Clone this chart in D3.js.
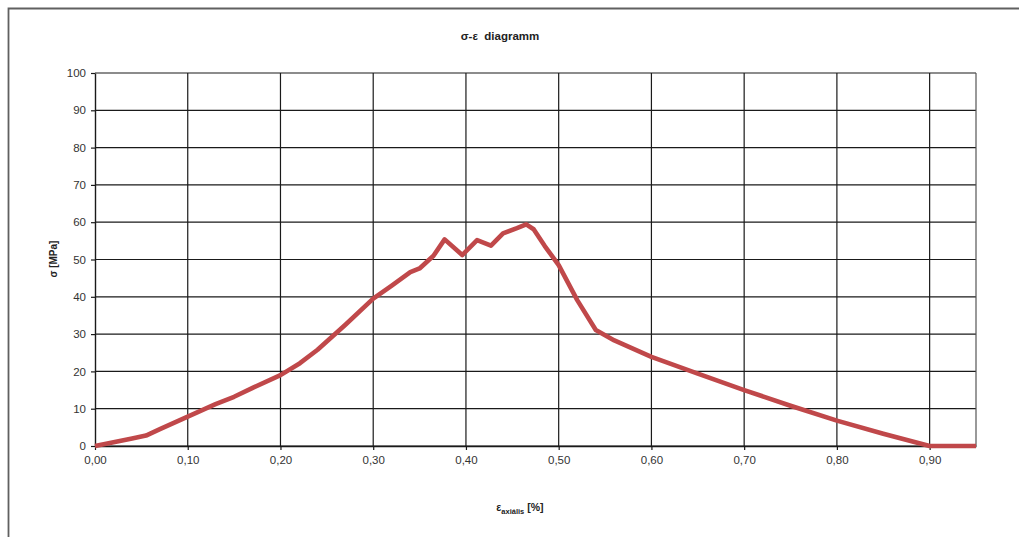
<!DOCTYPE html>
<html>
<head>
<meta charset="utf-8">
<script src="https://cdn.jsdelivr.net/npm/d3@7"></script>
<style>
  html, body { margin: 0; padding: 0; background: #fff; }
  svg { display: block; }
</style>
</head>
<body>
<svg id="chart" width="1019" height="537"></svg>
<script>
// Strain (axial, %) and stress (MPa) readings of the test
const strain = [0.000, 0.020, 0.040, 0.055, 0.070, 0.100, 0.130, 0.150, 0.170, 0.200,
                0.221, 0.240, 0.270, 0.300, 0.320, 0.340, 0.350, 0.365, 0.377, 0.396,
                0.412, 0.427, 0.440, 0.455, 0.465, 0.473, 0.485, 0.500, 0.520, 0.540,
                0.560, 0.600, 0.650, 0.700, 0.750, 0.800, 0.850, 0.900, 0.950];
const stress = [0.0, 1.0, 2.0, 2.8, 4.5, 7.9, 11.2, 13.2, 15.6, 19.0,
                22.2, 25.8, 32.5, 39.5, 43.0, 46.6, 47.6, 51.0, 55.4, 51.2,
                55.2, 53.7, 57.0, 58.4, 59.4, 58.1, 53.6, 48.5, 39.1, 31.1,
                28.3, 23.9, 19.4, 15.0, 10.8, 6.8, 3.3, 0.0, 0.0];

const xTicks = [0, 0.1, 0.2, 0.3, 0.4, 0.5, 0.6, 0.7, 0.8, 0.9];
const yTicks = [0, 10, 20, 30, 40, 50, 60, 70, 80, 90, 100];

const titleText = "σ-ε  diagramm";
const yLabelText = "σ [MPa]";

const svg = d3.select("#chart");
const W = 1019, H = 537;
const plot = { left: 95, right: 976, top: 73, bottom: 446 };

const x = d3.scaleLinear().domain([0, 0.95]).range([plot.left, plot.right]);
const y = d3.scaleLinear().domain([0, 100]).range([plot.bottom, plot.top]);

// Outer frame (top and left edges visible)
svg.append("path")
  .attr("d", `M8.5,${H + 2} L8.5,8.5 L${W + 2},8.5`)
  .attr("fill", "none")
  .attr("stroke", "#606060")
  .attr("stroke-width", 1.8);

// Grid
const grid = svg.append("g");
grid.selectAll("line.h").data(yTicks).enter().append("line")
  .attr("x1", plot.left).attr("x2", plot.right)
  .attr("y1", d => y(d)).attr("y2", d => y(d))
  .attr("stroke", "#1a1a1a").attr("stroke-width", 1.2);
grid.selectAll("line.v").data(xTicks.filter(d => d > 0)).enter().append("line")
  .attr("y1", plot.top).attr("y2", plot.bottom)
  .attr("x1", d => x(d)).attr("x2", d => x(d))
  .attr("stroke", "#1a1a1a").attr("stroke-width", 1.2);
// right edge of the plot area
grid.append("line")
  .attr("x1", plot.right).attr("x2", plot.right)
  .attr("y1", plot.top).attr("y2", plot.bottom)
  .attr("stroke", "#555").attr("stroke-width", 1.2);

// Axes
const xAxis = d3.axisBottom(x).tickValues(xTicks)
  .tickFormat(d => d3.format(".2f")(d).replace(".", ","))
  .tickSize(4).tickSizeOuter(0);
const yAxis = d3.axisLeft(y).tickValues(yTicks)
  .tickFormat(d3.format("d"))
  .tickSize(4).tickSizeOuter(0);

const gx = svg.append("g").attr("transform", `translate(0,${plot.bottom})`).call(xAxis);
const gy = svg.append("g").attr("transform", `translate(${plot.left},0)`).call(yAxis);

[gx, gy].forEach(g => {
  g.select(".domain").attr("stroke", "#1a1a1a").attr("stroke-width", 1.4);
  g.selectAll(".tick line").attr("stroke", "#1a1a1a").attr("stroke-width", 1.2);
  g.selectAll(".tick text")
    .attr("font-family", "Liberation Sans, Arial, sans-serif")
    .attr("font-size", 11.5)
    .attr("fill", "#333");
});
gx.selectAll(".tick text").attr("dy", "0.95em");
gy.selectAll(".tick text").attr("dx", "-2");

// Stress–strain curve
const line = d3.line().x((d, i) => x(strain[i])).y(d => y(d));
svg.append("path")
  .datum(stress)
  .attr("d", line)
  .attr("fill", "none")
  .attr("stroke", "#c0484a")
  .attr("stroke-width", 4.6)
  .attr("stroke-linejoin", "round")
  .attr("stroke-linecap", "butt");

// Title
svg.append("text")
  .attr("x", 500).attr("y", 40)
  .attr("text-anchor", "middle")
  .attr("font-family", "Liberation Sans, Arial, sans-serif")
  .attr("font-size", 11.5).attr("font-weight", "bold")
  .attr("fill", "#222")
  .attr("xml:space", "preserve")
  .text(titleText);

// Y axis title
svg.append("text")
  .attr("transform", "translate(57,259) rotate(-90)")
  .attr("text-anchor", "middle")
  .attr("font-family", "Liberation Sans, Arial, sans-serif")
  .attr("font-size", 10).attr("font-weight", "bold")
  .attr("fill", "#222")
  .text(yLabelText);

// X axis title with subscript
const xl = svg.append("text")
  .attr("x", 520).attr("y", 511)
  .attr("text-anchor", "middle")
  .attr("font-family", "Liberation Sans, Arial, sans-serif")
  .attr("font-size", 10.5).attr("font-weight", "bold")
  .attr("fill", "#222");
xl.append("tspan").text("ε");
xl.append("tspan").attr("font-size", 7.5).attr("dy", 3).text("axiális");
xl.append("tspan").attr("dy", -3).attr("dx", 3).text("[%]");
</script>
</body>
</html>
